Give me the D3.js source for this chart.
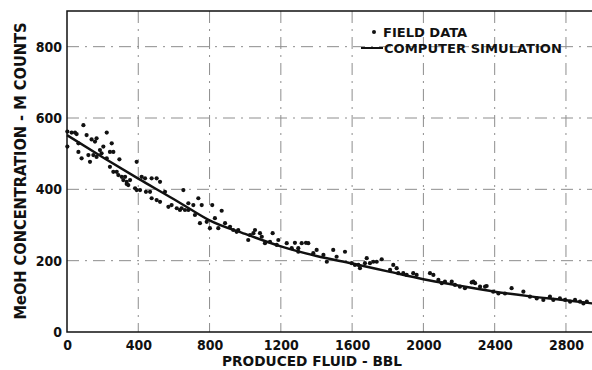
<!DOCTYPE html>
<html>
<head>
<meta charset="utf-8">
<script src="https://cdn.jsdelivr.net/npm/d3@7"></script>
<style>
  body { margin: 0; background: #fff; }
  text { font-family: 'DejaVu Sans Condensed', 'DejaVu Sans', sans-serif; font-stretch: condensed; font-weight: bold; fill: #111; }
</style>
</head>
<body>
<script>
const width = 592;
const height = 370;

// x ticks / y ticks
const xTicks = [0, 400, 800, 1200, 1600, 2000, 2400, 2800];
const yTicks = [0, 200, 400, 600, 800];

// computer simulation curve
const simX = [0, 200, 400, 600, 700, 800, 1000, 1200, 1400, 1600, 1800, 2000, 2200, 2400, 2600, 2800, 2950];
const simY = [552, 490, 430, 372, 342, 313, 275, 240, 213, 192, 170, 148, 130, 113, 100, 89, 80];

// field data points
const fieldX = [2, 2, 26, 45, 54, 92, 64, 64, 82, 110, 120, 129, 138, 157, 166, 148, 166, 185, 194, 204,
  223, 223, 241, 251, 260, 241, 260, 279, 294, 288, 307, 326, 316, 335, 344, 335, 354, 391, 382, 391,
  410, 419, 438, 443, 466, 475, 503, 475, 503, 522, 522, 550, 569, 587, 616, 634, 653, 662, 681,
  643, 681, 709, 737, 756, 815, 718, 746, 784, 802, 830, 849, 868, 887, 915, 933, 952, 961,
  1017, 1027, 1046, 1055, 1083, 1093, 1111, 1139, 1154, 1186, 1177, 1233, 1261, 1279, 1298, 1317,
  1341, 1354, 1298, 1401, 1382, 1439, 1458, 1494, 1513, 1560, 1598, 1616, 1644, 1635, 1672, 1682,
  1700, 1719, 1738, 1766, 1813, 1831, 1850, 1859, 1887, 1906, 1943, 1962, 2037, 2056, 2084, 2103,
  2121, 2159, 2177, 2205, 2233, 2271, 2290, 2318, 2355, 2392, 2421, 2458, 2495, 2561, 2598, 2636,
  2673, 2710, 2729, 2766, 2795, 2823, 2851, 2879, 2898, 2917, 2280, 2346];
const fieldY = [562, 520, 559, 559, 555, 580, 529, 505, 487, 552, 496, 477, 540, 534, 543, 496, 491, 510, 501, 520,
  559, 487, 505, 529, 505, 463, 449, 449, 484, 440, 435, 435, 426, 421, 412, 415, 426, 477, 403, 398,
  398, 435, 431, 393, 393, 431, 431, 375, 370, 365, 421, 393, 351, 356, 347, 342, 398, 342, 342,
  347, 361, 356, 375, 356, 356, 328, 305, 309, 291, 319, 291, 340, 305, 295, 286, 281, 286,
  258, 272, 277, 286, 277, 267, 249, 253, 277, 258, 244, 249, 235, 250, 235, 249,
  250, 249, 225, 230, 221, 216, 197, 230, 211, 225, 193, 188, 179, 188, 193, 207,
  193, 197, 197, 204, 174, 188, 179, 165, 165, 160, 165, 160, 165, 160, 146, 137,
  141, 141, 132, 127, 123, 139, 137, 127, 129, 113, 108, 108, 123, 113, 99, 94,
  90, 99, 90, 94, 90, 85, 90, 85, 80, 85, 141, 127];

const plotLeft = 67, plotTop = 11, plotBottom = 332;
const x = d3.scaleLinear().domain([0, 2950]).range([plotLeft, plotLeft + 2950 * 0.1782]);
const y = d3.scaleLinear().domain([0, 900]).range([plotBottom, plotTop]);

const svg = d3.select("body").append("svg")
  .attr("width", width)
  .attr("height", height);

// dash-dot grid
const grid = svg.append("g")
  .attr("stroke", "#444")
  .attr("stroke-width", 1)
  .attr("stroke-dasharray", "12,6,2,6")
  .attr("opacity", 0.6);
grid.selectAll("line.gx")
  .data(xTicks.filter(d => d > 0))
  .enter().append("line")
  .attr("x1", d => x(d)).attr("x2", d => x(d))
  .attr("y1", plotTop).attr("y2", plotBottom);
grid.selectAll("line.gy")
  .data(yTicks.filter(d => d > 0))
  .enter().append("line")
  .attr("x1", plotLeft).attr("x2", width)
  .attr("y1", d => y(d)).attr("y2", d => y(d));

// frame lines (left, bottom, top)
svg.append("path")
  .attr("d", `M${width},${plotTop}H${plotLeft}V${plotBottom}H${width}`)
  .attr("fill", "none")
  .attr("stroke", "#111")
  .attr("stroke-width", 1.5);

// axes
const xAxis = svg.append("g")
  .attr("transform", `translate(0,${plotBottom})`)
  .call(d3.axisBottom(x).tickValues(xTicks).tickFormat(d3.format("d")).tickSize(0).tickPadding(8));
xAxis.select(".domain").remove();
xAxis.selectAll("text").style("font-size", "14px").attr("fill", "#111");

const yAxis = svg.append("g")
  .attr("transform", `translate(${plotLeft},0)`)
  .call(d3.axisLeft(y).tickValues(yTicks).tickFormat(d3.format("d")).tickSize(0).tickPadding(5));
yAxis.select(".domain").remove();
yAxis.selectAll("text").style("font-size", "14px").attr("fill", "#111");

// simulation curve
const line = d3.line()
  .x((d, i) => x(simX[i]))
  .y(d => y(d))
  .curve(d3.curveMonotoneX);
svg.append("path")
  .datum(simY)
  .attr("d", line)
  .attr("fill", "none")
  .attr("stroke", "#111")
  .attr("stroke-width", 2.4);

// field data
svg.append("g")
  .selectAll("circle")
  .data(fieldX)
  .enter().append("circle")
  .attr("cx", d => x(d))
  .attr("cy", (d, i) => y(fieldY[i]))
  .attr("r", 2.1)
  .attr("fill", "#111");

// legend
svg.append("circle").attr("cx", 374).attr("cy", 32).attr("r", 2).attr("fill", "#111");
svg.append("text").attr("x", 383).attr("y", 37)
  .attr("textLength", 84).attr("lengthAdjust", "spacingAndGlyphs")
  .style("font-size", "13px").text("FIELD DATA");
svg.append("line").attr("x1", 361).attr("x2", 383).attr("y1", 48).attr("y2", 48)
  .attr("stroke", "#111").attr("stroke-width", 2);
svg.append("text").attr("x", 384).attr("y", 53)
  .attr("textLength", 178).attr("lengthAdjust", "spacingAndGlyphs")
  .style("font-size", "13px").text("COMPUTER SIMULATION");

// axis titles
svg.append("text")
  .attr("x", 312).attr("y", 366)
  .attr("text-anchor", "middle")
  .attr("textLength", 180).attr("lengthAdjust", "spacingAndGlyphs")
  .style("font-size", "14px")
  .text("PRODUCED FLUID - BBL");

svg.append("text")
  .attr("transform", "translate(26,171) rotate(-90)")
  .attr("text-anchor", "middle")
  .attr("textLength", 297).attr("lengthAdjust", "spacingAndGlyphs")
  .style("font-size", "15px")
  .text("MeOH CONCENTRATION - M COUNTS");
</script>
</body>
</html>
